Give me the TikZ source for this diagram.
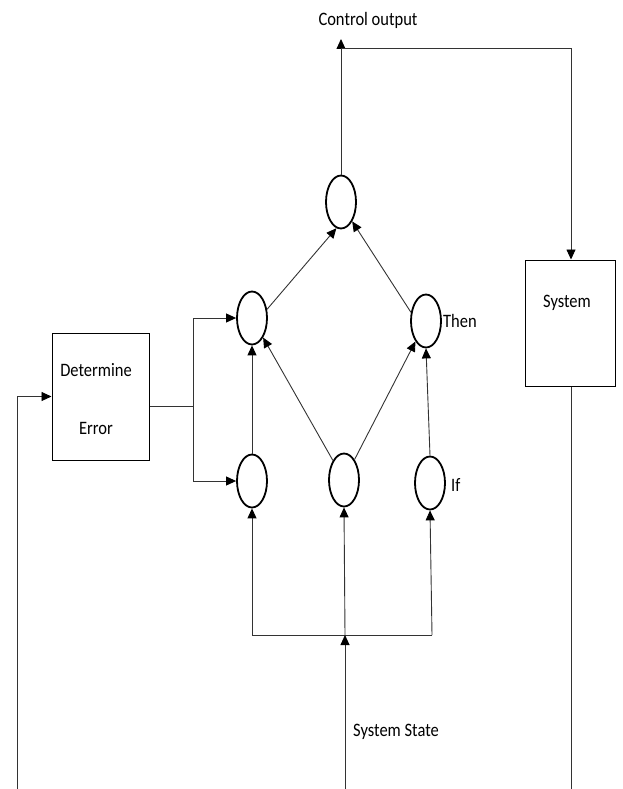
\documentclass[tikz,border=0pt]{standalone}
\usepackage{graphicx}
\usepackage{fontspec}
\setmainfont{Carlito}
\usetikzlibrary{shapes.geometric,arrows.meta}
\newcommand\lbl[1]{\scalebox{1}[1.15]{#1}}
\tikzset{
  ln/.style={line width=0.9pt, draw=black!80},
  arr/.style={ln, -{Triangle[length=10pt,width=9pt,color=black]}},
  neuron/.style={ellipse, draw=black, line width=1.8pt, minimum width=30pt, minimum height=53pt, inner sep=0pt},
  blk/.style={rectangle, draw=black, line width=1pt, inner sep=0pt},
  txt/.style={inner sep=0pt, font=\fontsize{16.5}{20}\selectfont},
}
\begin{document}
\begin{tikzpicture}[x=1pt,y=-1pt]
\useasboundingbox (0,0) rectangle (622,789);
% blocks
\node[blk, minimum width=97pt, minimum height=127pt] (err) at (100.5,396.5) {};
\node[blk, minimum width=90pt, minimum height=126pt] (sys) at (570,323) {};
% texts
\node[txt] (tctrl) at (368,20) {\lbl{Control output}};
\node[txt] (tsys) at (567,303) {\lbl{System}};
\node[txt] (tdet) at (96,370) {\lbl{Determine}};
\node[txt] (terr) at (96,428) {\lbl{Error}};
\node[txt, anchor=west] (tstate) at (353,732) {\lbl{System State}};
% neurons
\node[neuron] (T) at (341,202) {};
\node[neuron] (L1) at (252,318) {};
\node[neuron] (R1) at (426,321) {};
\node[neuron] (B1) at (252,481) {};
\node[neuron] (B2) at (344,480) {};
\node[neuron] (B3) at (430,483) {};
\node[txt, anchor=west] (tthen) at (443,321) {\lbl{Then}};
\node[txt, anchor=west] (tif) at (451,485) {\lbl{If}};
% coordinates
\coordinate (outtop) at (341,39);
\coordinate (ctop) at (341,48);
\coordinate (cright) at (571,48);
\coordinate (sysbot) at (571,789);
\coordinate (fbbot) at (17,789);
\coordinate (split) at (193,406);
\coordinate (busL) at (252,635);
\coordinate (busM) at (345,635);
\coordinate (busR) at (432,635);
\coordinate (statebot) at (345,789);
% connectors
\draw[arr] (T.north) -- (outtop);
\draw[arr] (ctop) -- (cright) -- (sys.north -| cright);
\draw[ln] (sys.south -| cright) -- (sysbot);
\draw[arr] (fbbot) |- (err.west);
\draw[ln] (err.east |- split) -- (split);
\draw[arr] (split) |- (L1.west);
\draw[arr] (split) |- (B1.west);
\draw[arr] (L1.30) -- (T.-100);
\draw[arr] (R1.150) -- (T.-60);
\draw[arr] (B1.north) -- (L1.south);
\draw[arr] (B2) -- (L1);
\draw[arr] (B2) -- (R1);
\draw[arr] (B3.north) -- (R1.south);
\draw[ln] (busL) -- (busR);
\draw[arr] (busL) -- (B1.south);
\draw[arr] (busM) -- (B2.south);
\draw[arr] (busR) -- (B3.south);
\draw[arr] (statebot) -- (busM);
\end{tikzpicture}
\end{document}
